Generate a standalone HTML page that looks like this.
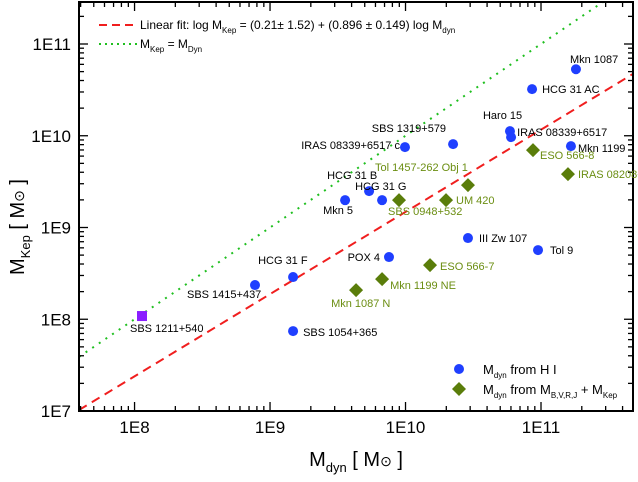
<!DOCTYPE html>
<html><head><meta charset="utf-8"><style>
body{margin:0;background:#fff;width:638px;height:477px;overflow:hidden}
svg{font-family:"Liberation Sans",Arial,sans-serif}
</style></head><body>
<svg id="c" width="638" height="477" viewBox="0 0 638 477" xmlns="http://www.w3.org/2000/svg"></svg>
<script>
// data (log10 values)
const hiNames=["Mkn 1087","HCG 31 AC","Haro 15","IRAS 08339+6517","Mkn 1199","SBS 1319+579","IRAS 08339+6517 c","HCG 31 B","Mkn 5","HCG 31 G","Tol 9","III Zw 107","POX 4","HCG 31 F","SBS 1415+437","SBS 1054+365"];
const hiX=[11.258,10.934,10.771,10.779,11.221,10.351,9.996,9.731,9.554,9.827,10.978,10.461,9.878,9.170,8.889,9.170];
const hiY=[10.725,10.508,10.050,9.985,9.887,9.909,9.876,9.397,9.298,9.298,8.754,8.885,8.678,8.460,8.373,7.871];
const hiLab=[[-6,-6,"start"],[10,4,"start"],[-27,-12,"start"],[6,-1,"start"],[7,6,"start"],[-7,-12,"end"],[-5,2,"end"],[-42,-12,"start"],[-22,14,"start"],[-27,-10,"start"],[12,4,"start"],[11,4,"start"],[-9,4,"end"],[-35,-13,"start"],[-68,13,"start"],[10,5,"start"]];
const sqNames=["SBS 1211+540"];
const sqX=[8.055];
const sqY=[8.035];
const phNames=["Tol 1457-262 Obj 1","ESO 566-8","IRAS 08208+2816","UM 420","SBS 0948+532","ESO 566-7","Mkn 1199 NE","Mkn 1087 N"];
const phX=[10.461,10.941,11.199,10.299,9.952,10.181,9.827,9.635];
const phY=[9.462,9.843,9.582,9.298,9.298,8.590,8.438,8.318];
const phLab=[[-93,-14,"start"],[7,9,"start"],[10,4,"start"],[10,4,"start"],[-11,15,"start"],[10,5,"start"],[8,10,"start"],[-25,17,"start"]];
const xTicks=[8,9,10,11];
const yTicks=[7,8,9,10,11];
const fitA=0.21, fitB=0.896;

const L=79,R=633,T=2,B=411;
const xMin=7.590,xMax=11.679,yMin=7,yMax=11+42/91.75;
const X=v=>L+(v-xMin)/(xMax-xMin)*(R-L);
const Y=v=>B-(v-yMin)/(yMax-yMin)*(B-T);
const svg=document.getElementById('c');
const NS="http://www.w3.org/2000/svg";
function el(t,a,p){const e=document.createElementNS(NS,t);for(const k in a)e.setAttribute(k,a[k]);(p||svg).appendChild(e);return e;}

const clip=el('clipPath',{id:'pc'});el('rect',{x:L,y:T,width:R-L,height:B-T},clip);

const g=el('g',{'clip-path':'url(#pc)'});


let e=el('line',{x1:X(xMin),y1:Y(xMin),x2:X(xMax),y2:Y(xMax),stroke:'#1fbf1f','stroke-width':2,'stroke-dasharray':'2,6'},g);


e=el('line',{x1:X(xMin),y1:Y(fitA+fitB*xMin),x2:X(xMax),y2:Y(fitA+fitB*xMax),stroke:'#f01e1e','stroke-width':2,'stroke-dasharray':'9,6'},g);



e=el('rect',{x:L,y:T,width:R-L,height:B-T,fill:'none',stroke:'#000','stroke-width':2});



for(let d=7;d<=11;d++){for(let m=1;m<10;m++){const v=d+Math.log10(m);const len=m===1?9:5;
 if(v>=xMin&&v<=xMax){el('line',{x1:X(v),x2:X(v),y1:B,y2:B-len,stroke:'#000','stroke-width':1.3});el('line',{x1:X(v),x2:X(v),y1:T,y2:T+len,stroke:'#000','stroke-width':1.3});}
 if(v>=yMin&&v<=yMax){el('line',{x1:L,x2:L+len,y1:Y(v),y2:Y(v),stroke:'#000','stroke-width':1.3});el('line',{x1:R,x2:R-len,y1:Y(v),y2:Y(v),stroke:'#000','stroke-width':1.3});}
}}
xTicks.forEach(v=>{const t=el('text',{x:X(v),y:B+22,'text-anchor':'middle','font-size':17});t.textContent='1E'+v;
 
 });
yTicks.forEach(v=>{const t=el('text',{x:L-8,y:Y(v)+6,'text-anchor':'end','font-size':17});t.textContent='1E'+v;
 
 });

const blue='#1f3fff',green='#5a7d0a',lgreen='#6b8e12';
hiX.forEach((x,i)=>{const c=el('circle',{cx:X(x),cy:Y(hiY[i]),r:5,fill:blue});
 
 
 const o=hiLab[i];const t=el('text',{x:X(x)+o[0],y:Y(hiY[i])+o[1],'text-anchor':o[2],'font-size':11,fill:'#000'});t.textContent=hiNames[i];
 
 });
sqX.forEach((x,i)=>{const s=el('rect',{x:X(x)-5,y:Y(sqY[i])-5,width:10,height:10,fill:'#8a1fff'});
 
 
 const t=el('text',{x:X(x)-12,y:Y(sqY[i])+16,'font-size':11});t.textContent=sqNames[i];
 
 });
phX.forEach((x,i)=>{const cx=X(x),cy=Y(phY[i]);const d=el('polygon',{points:`${cx},${cy-7} ${cx+7},${cy} ${cx},${cy+7} ${cx-7},${cy}`,fill:green});
 
 
 const o=phLab[i];const t=el('text',{x:cx+o[0],y:cy+o[1],'text-anchor':o[2],'font-size':11,fill:lgreen});t.textContent=phNames[i];
 
 });

el('line',{x1:99,x2:137,y1:25,y2:25,stroke:'#f01e1e','stroke-width':2,'stroke-dasharray':'8,5'});
let t=el('text',{x:140,y:29,'font-size':12});


t.innerHTML='Linear fit: log M<tspan font-size="8" dy="4">Kep</tspan><tspan dy="-4"> = (0.21± 1.52) + (0.896 ± 0.149) log M</tspan><tspan font-size="8" dy="4">dyn</tspan>';
el('line',{x1:99,x2:137,y1:44,y2:44,stroke:'#1fbf1f','stroke-width':2,'stroke-dasharray':'2,4'});
t=el('text',{x:140,y:48,'font-size':12});


t.innerHTML='M<tspan font-size="8" dy="4">Kep</tspan><tspan dy="-4"> = M</tspan><tspan font-size="8" dy="4">Dyn</tspan>';

el('circle',{cx:459,cy:369,r:5,fill:blue});
t=el('text',{x:483,y:374,'font-size':13});


t.innerHTML='M<tspan font-size="8" dy="4">dyn</tspan><tspan dy="-4"> from H I</tspan>';
el('polygon',{points:'459,382 466,389 459,396 452,389',fill:green});
t=el('text',{x:483,y:394,'font-size':13});


t.innerHTML='M<tspan font-size="8" dy="4">dyn</tspan><tspan dy="-4"> from M</tspan><tspan font-size="8" dy="4">B,V,R,J</tspan><tspan dy="-4"> + M</tspan><tspan font-size="8" dy="4">Kep</tspan>';

t=el('text',{x:356,y:466,'text-anchor':'middle','font-size':20});


t.innerHTML='M<tspan font-size="13" dy="6">dyn</tspan><tspan dy="-6"> [ M</tspan><tspan font-size="14">⊙</tspan><tspan> ]</tspan>';
t=el('text',{x:0,y:0,'text-anchor':'middle','font-size':20,transform:'translate(24,227) rotate(-90)'});


t.innerHTML='M<tspan font-size="13" dy="6">Kep</tspan><tspan dy="-6"> [ M</tspan><tspan font-size="14">⊙</tspan><tspan> ]</tspan>';
</script>
</body></html>
